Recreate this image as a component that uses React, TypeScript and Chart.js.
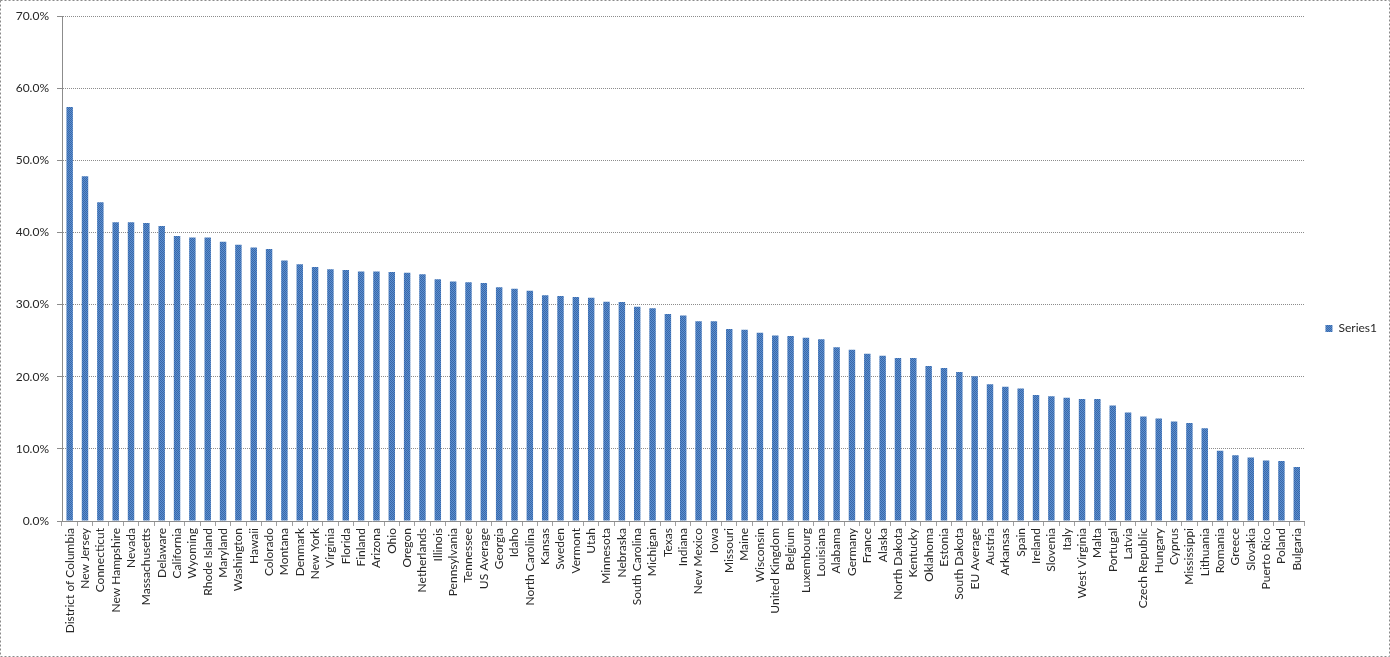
import React, { useEffect, useRef } from "react";
import { Chart, registerables } from "chart.js";

Chart.register(...registerables);

const categories: string[] = [
  "District of Columbia", "New Jersey", "Connecticut", "New Hampshire", "Nevada",
  "Massachusetts", "Delaware", "California", "Wyoming", "Rhode Island",
  "Maryland", "Washington", "Hawaii", "Colorado", "Montana",
  "Denmark", "New York", "Virginia", "Florida", "Finland",
  "Arizona", "Ohio", "Oregon", "Netherlands", "Illinois",
  "Pennsylvania", "Tennessee", "US Average", "Georgia", "Idaho",
  "North Carolina", "Kansas", "Sweden", "Vermont", "Utah",
  "Minnesota", "Nebraska", "South Carolina", "Michigan", "Texas",
  "Indiana", "New Mexico", "Iowa", "Missouri", "Maine",
  "Wisconsin", "United Kingdom", "Belgium", "Luxembourg", "Louisiana",
  "Alabama", "Germany", "France", "Alaska", "North Dakota",
  "Kentucky", "Oklahoma", "Estonia", "South Dakota", "EU Average",
  "Austria", "Arkansas", "Spain", "Ireland", "Slovenia",
  "Italy", "West Virginia", "Malta", "Portugal", "Latvia",
  "Czech Republic", "Hungary", "Cyprus", "Mississippi", "Lithuania",
  "Romania", "Greece", "Slovakia", "Puerto Rico", "Poland",
  "Bulgaria",
];

const series1: number[] = [
  57.4, 47.8, 44.2, 41.4, 41.4,
  41.3, 40.9, 39.5, 39.3, 39.3,
  38.7, 38.3, 37.9, 37.7, 36.1,
  35.6, 35.2, 34.9, 34.8, 34.6,
  34.6, 34.5, 34.4, 34.2, 33.5,
  33.2, 33.1, 33.0, 32.4, 32.2,
  31.9, 31.3, 31.2, 31.05, 30.95,
  30.4, 30.35, 29.7, 29.5, 28.7,
  28.5, 27.7, 27.7, 26.6, 26.5,
  26.1, 25.7, 25.65, 25.4, 25.2,
  24.1, 23.75, 23.2, 22.9, 22.6,
  22.6, 21.5, 21.2, 20.65, 20.05,
  18.95, 18.6, 18.35, 17.45, 17.3,
  17.1, 16.9, 16.9, 16.0, 15.05,
  14.5, 14.2, 13.8, 13.6, 12.85,
  9.75, 9.1, 8.8, 8.4, 8.3,
  7.5,
];

const seriesName = "Series1";
const yMin = 0;
const yMax = 70;
const yStep = 10;

function makePattern(): CanvasPattern | string {
  const c = document.createElement("canvas");
  c.width = 2;
  c.height = 2;
  const g = c.getContext("2d");
  if (!g) return "#4a7ebb";
  g.fillStyle = "#5a8ed0";
  g.fillRect(0, 0, 2, 2);
  g.fillStyle = "#3a68a8";
  g.fillRect(0, 0, 1, 1);
  g.fillRect(1, 1, 1, 1);
  const p = g.createPattern(c, "repeat");
  return p || "#4a7ebb";
}

const borderPlugin = {
  id: "outerBorder",
  afterLayout(chart: any) {
    if (chart.legend) {
      chart.legend.bottom -= 16;
    }
  },
  afterDraw(chart: any) {
    const ctx = chart.ctx as CanvasRenderingContext2D;
    ctx.save();
    ctx.strokeStyle = "#8a8a8a";
    ctx.lineWidth = 1;
    ctx.setLineDash([2, 2]);
    ctx.strokeRect(0.5, 0.5, chart.width - 1, chart.height - 1);
    ctx.restore();
  },
};

export default function App() {
  const ref = useRef<HTMLCanvasElement | null>(null);

  useEffect(() => {
    if (!ref.current) return;
    const fill = makePattern();
    const font = { family: "Lato, 'Open Sans', sans-serif", size: 12 };
    const chart = new Chart(ref.current, {
      type: "bar",
      data: {
        labels: categories,
        datasets: [
          {
            label: seriesName,
            data: series1,
            backgroundColor: fill as any,
            borderWidth: 0,
            categoryPercentage: 1,
            barPercentage: 0.42,
          },
        ],
      },
      options: {
        animation: false,
        responsive: false,
        devicePixelRatio: 1,
        layout: { padding: { top: 16, left: 0, right: 3, bottom: 0 } },
        plugins: {
          tooltip: { enabled: false },
          legend: {
            position: "right",
            labels: {
              boxWidth: 7,
              boxHeight: 7,
              padding: 21,
              color: "#262626",
              font,
            },
          },
        },
        scales: {
          x: {
            grid: {
              drawOnChartArea: false,
              drawTicks: true,
              tickLength: 5,
              color: "#a0a0a0",
            },
            border: { color: "#8c8c8c" },
            ticks: {
              autoSkip: false,
              maxRotation: 90,
              minRotation: 90,
              padding: 2,
              color: "#262626",
              font,
            },
            afterFit(scale: any) {
              scale.height = 136;
            },
          },
          y: {
            min: yMin,
            max: yMax,
            grid: {
              color: "#8c8c8c",
              tickLength: 5,
            },
            border: { color: "#8c8c8c", dash: [1, 1] },
            ticks: {
              stepSize: yStep,
              padding: 8,
              color: "#262626",
              font,
              callback: (v: any) => Number(v).toFixed(1) + "%",
            },
            afterFit(scale: any) {
              scale.width = 62;
            },
          },
        },
      },
      plugins: [borderPlugin],
    });
    return () => chart.destroy();
  }, []);

  return (
    <div style={{ position: "absolute", left: 0, top: 0, width: 1390, height: 657, background: "#fff" }}>
      <canvas ref={ref} width={1390} height={657} style={{ display: "block" }} />
    </div>
  );
}
